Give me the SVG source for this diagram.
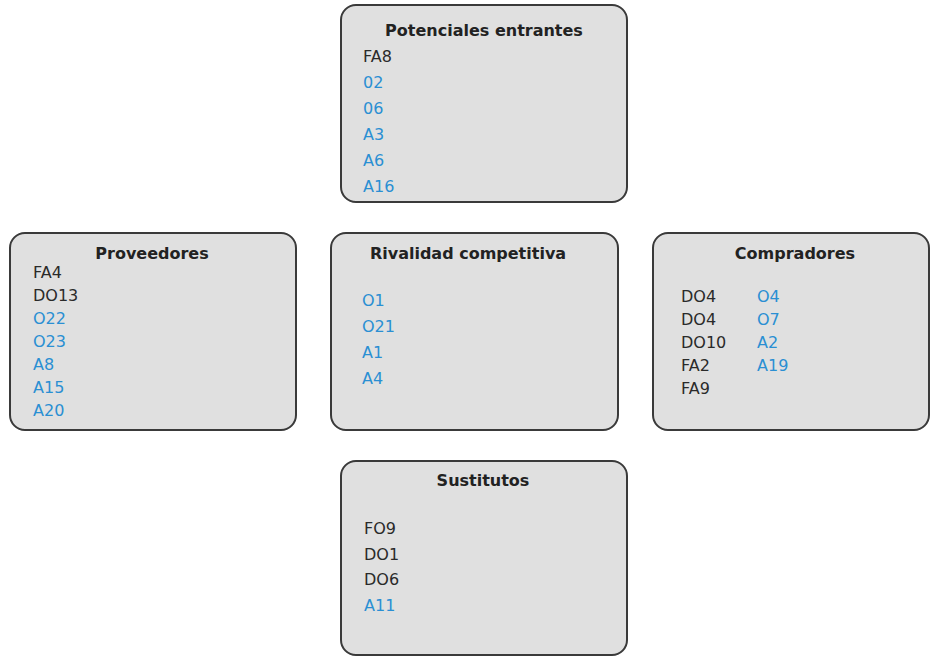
<svg xmlns="http://www.w3.org/2000/svg" width="931" height="657" viewBox="0 0 931 657">
  <style>
    .box { fill: #e0e0e0; stroke: #3a3a3a; stroke-width: 2; }
    .title { font-family: "DejaVu Sans", Verdana, sans-serif; font-size: 16px; font-weight: bold; fill: #222; text-anchor: middle; }
    .item { font-family: "DejaVu Sans", Verdana, sans-serif; font-size: 16px; fill: #2a2a2a; }
    .blue { fill: #2a8fd3; }
  </style>
  <rect width="931" height="657" fill="#ffffff"/>
  <g id="connectors"></g>

  <g id="potenciales">
    <rect class="box" x="341" y="5" width="286" height="197" rx="15"/>
    <text class="title" x="484" y="36">Potenciales entrantes</text>
    <text class="item" x="363" y="62">FA8</text>
    <text class="item blue" x="363" y="88">02</text>
    <text class="item blue" x="363" y="114">06</text>
    <text class="item blue" x="363" y="140">A3</text>
    <text class="item blue" x="363" y="166">A6</text>
    <text class="item blue" x="363" y="192">A16</text>
  </g>

  <g id="proveedores">
    <rect class="box" x="10" y="233" width="286" height="197" rx="15"/>
    <text class="title" x="152" y="259">Proveedores</text>
    <text class="item" x="33" y="278">FA4</text>
    <text class="item" x="33" y="301">DO13</text>
    <text class="item blue" x="33" y="324">O22</text>
    <text class="item blue" x="33" y="347">O23</text>
    <text class="item blue" x="33" y="370">A8</text>
    <text class="item blue" x="33" y="393">A15</text>
    <text class="item blue" x="33" y="416">A20</text>
  </g>

  <g id="rivalidad">
    <rect class="box" x="331" y="233" width="287" height="197" rx="15"/>
    <text class="title" x="468" y="259">Rivalidad competitiva</text>
    <text class="item blue" x="362" y="306">O1</text>
    <text class="item blue" x="362" y="332">O21</text>
    <text class="item blue" x="362" y="358">A1</text>
    <text class="item blue" x="362" y="384">A4</text>
  </g>

  <g id="compradores">
    <rect class="box" x="653" y="233" width="276" height="197" rx="15"/>
    <text class="title" x="795" y="259">Compradores</text>
    <text class="item" x="681" y="302">DO4</text>
    <text class="item" x="681" y="325">DO4</text>
    <text class="item" x="681" y="348">DO10</text>
    <text class="item" x="681" y="371">FA2</text>
    <text class="item" x="681" y="394">FA9</text>
    <text class="item blue" x="757" y="302">O4</text>
    <text class="item blue" x="757" y="325">O7</text>
    <text class="item blue" x="757" y="348">A2</text>
    <text class="item blue" x="757" y="371">A19</text>
  </g>

  <g id="sustitutos">
    <rect class="box" x="341" y="461" width="286" height="194" rx="15"/>
    <text class="title" x="483" y="486">Sustitutos</text>
    <text class="item" x="364" y="534">FO9</text>
    <text class="item" x="364" y="560">DO1</text>
    <text class="item" x="364" y="585">DO6</text>
    <text class="item blue" x="364" y="611">A11</text>
  </g>
</svg>
